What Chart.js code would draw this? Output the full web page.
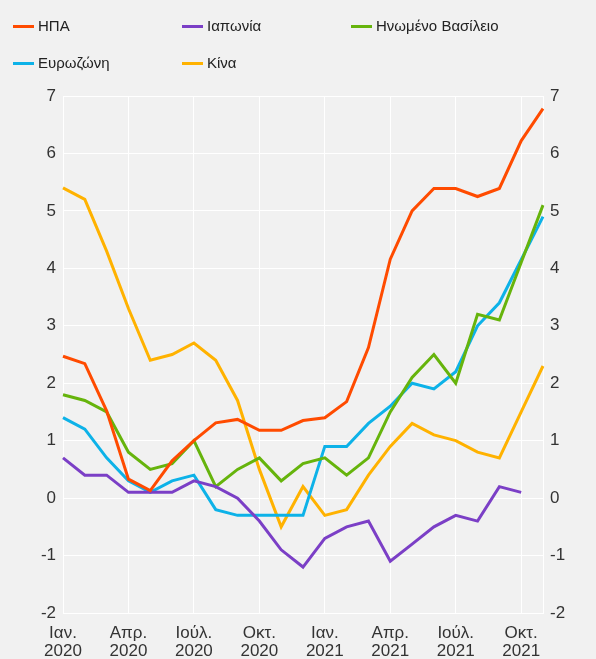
<!DOCTYPE html>
<html>
<head>
<meta charset="utf-8">
<script src="https://cdn.jsdelivr.net/npm/chart.js@4"></script>
<style>
html,body{margin:0;padding:0;background:#f1f1f1;}
#wrap{position:relative;width:596px;height:659px;background:#f1f1f1;font-family:"Liberation Sans",Arial,sans-serif;}
canvas{position:absolute;left:0;top:0;}
.lg{position:absolute;font-size:15px;color:#222;line-height:18px;white-space:nowrap;}
.lg i{display:inline-block;width:21px;height:3px;vertical-align:middle;margin-right:4px;position:relative;top:-1px;}
</style>
</head>
<body>
<div id="wrap">
<canvas id="c" width="596" height="659"></canvas>
</div>
<script>
const categories = ['2020-01','2020-02','2020-03','2020-04','2020-05','2020-06','2020-07','2020-08','2020-09','2020-10','2020-11','2020-12',
  '2021-01','2021-02','2021-03','2021-04','2021-05','2021-06','2021-07','2021-08','2021-09','2021-10','2021-11'];
const tickLabels = {0:['Ιαν.','2020'],3:['Απρ.','2020'],6:['Ιούλ.','2020'],9:['Οκτ.','2020'],
  12:['Ιαν.','2021'],15:['Απρ.','2021'],18:['Ιούλ.','2021'],21:['Οκτ.','2021']};
const yTicks = [-2,-1,0,1,2,3,4,5,6,7];

const usa   = [2.47,2.34,1.52,0.33,0.13,0.65,1.0,1.31,1.37,1.18,1.18,1.35,1.4,1.68,2.62,4.16,5.0,5.39,5.39,5.25,5.39,6.22,6.78];
const japan = [0.7,0.4,0.4,0.1,0.1,0.1,0.3,0.2,0.0,-0.4,-0.9,-1.2,-0.7,-0.5,-0.4,-1.1,-0.8,-0.5,-0.3,-0.4,0.2,0.1,null];
const uk    = [1.8,1.7,1.5,0.8,0.5,0.6,1.0,0.2,0.5,0.7,0.3,0.6,0.7,0.4,0.7,1.5,2.1,2.5,2.0,3.2,3.1,4.1,5.1];
const euro  = [1.4,1.2,0.7,0.3,0.1,0.3,0.4,-0.2,-0.3,-0.3,-0.3,-0.3,0.9,0.9,1.3,1.6,2.0,1.9,2.2,3.0,3.4,4.15,4.9];
const china = [5.4,5.2,4.3,3.3,2.4,2.5,2.7,2.4,1.7,0.5,-0.5,0.2,-0.3,-0.2,0.4,0.9,1.3,1.1,1.0,0.8,0.7,1.5,2.3];

const seriesNames = ['ΗΠΑ','Ιαπωνία','Ηνωμένο Βασίλειο','Ευρωζώνη','Κίνα'];
const seriesColors = ['#ff4b00','#7b3fc6','#66b40c','#0db2e8','#ffb200'];
const seriesData = [usa, japan, uk, euro, china];

// HTML legend (grid layout)
const legendPos = [[13,17],[182,17],[351,17],[13,54],[182,54]];
const wrap = document.getElementById('wrap');
seriesNames.forEach((n,i)=>{
  const d = document.createElement('div');
  d.className='lg';
  d.style.left=legendPos[i][0]+'px';
  d.style.top=legendPos[i][1]+'px';
  d.innerHTML='<i style="background:'+seriesColors[i]+'"></i>'+n;
  wrap.appendChild(d);
});

const font = {family:'"Liberation Sans", Arial, sans-serif', size:17};
const xFont = {family:'"Liberation Sans", Arial, sans-serif', size:17, lineHeight:1.03};
const tickColor = '#333';

new Chart(document.getElementById('c'), {
  type:'line',
  data:{
    labels: categories,
    datasets: seriesData.map((d,i)=>({
      label: seriesNames[i], data: d, borderColor: seriesColors[i], backgroundColor: seriesColors[i],
      borderWidth: 3, pointRadius: 0, tension: 0, fill:false, spanGaps:false
    }))
  },
  options:{
    responsive:false, animation:false,
    layout:{padding:{top:96,left:0,right:0,bottom:0}},
    plugins:{legend:{display:false}, tooltip:{enabled:false}},
    scales:{
      x:{
        type:'category', offset:false,
        grid:{color:(ctx)=> (ctx.index%3===0 ? '#ffffff' : 'rgba(0,0,0,0)'), lineWidth:1, drawTicks:false},
        border:{color:'#ffffff', width:1},
        ticks:{autoSkip:false, maxRotation:0, font:xFont, color:tickColor, padding:12,
          callback:(v,i)=> tickLabels[i] || ''},
        afterFit:(s)=>{s.height=46;}
      },
      y:{
        position:'left', min:-2, max:7,
        afterBuildTicks:(s)=>{s.ticks = yTicks.map(v=>({value:v}));},
        grid:{color:'#ffffff', lineWidth:1, drawTicks:false},
        border:{color:'#ffffff', width:1},
        ticks:{font:font, color:tickColor, padding:7},
        afterFit:(s)=>{s.width=63;}
      },
      y2:{
        position:'right', min:-2, max:7,
        afterBuildTicks:(s)=>{s.ticks = yTicks.map(v=>({value:v}));},
        grid:{display:false, drawTicks:false},
        border:{color:'#ffffff', width:1},
        ticks:{font:font, color:tickColor, padding:7},
        afterFit:(s)=>{s.width=53;}
      }
    }
  }
});
</script>
</body>
</html>
